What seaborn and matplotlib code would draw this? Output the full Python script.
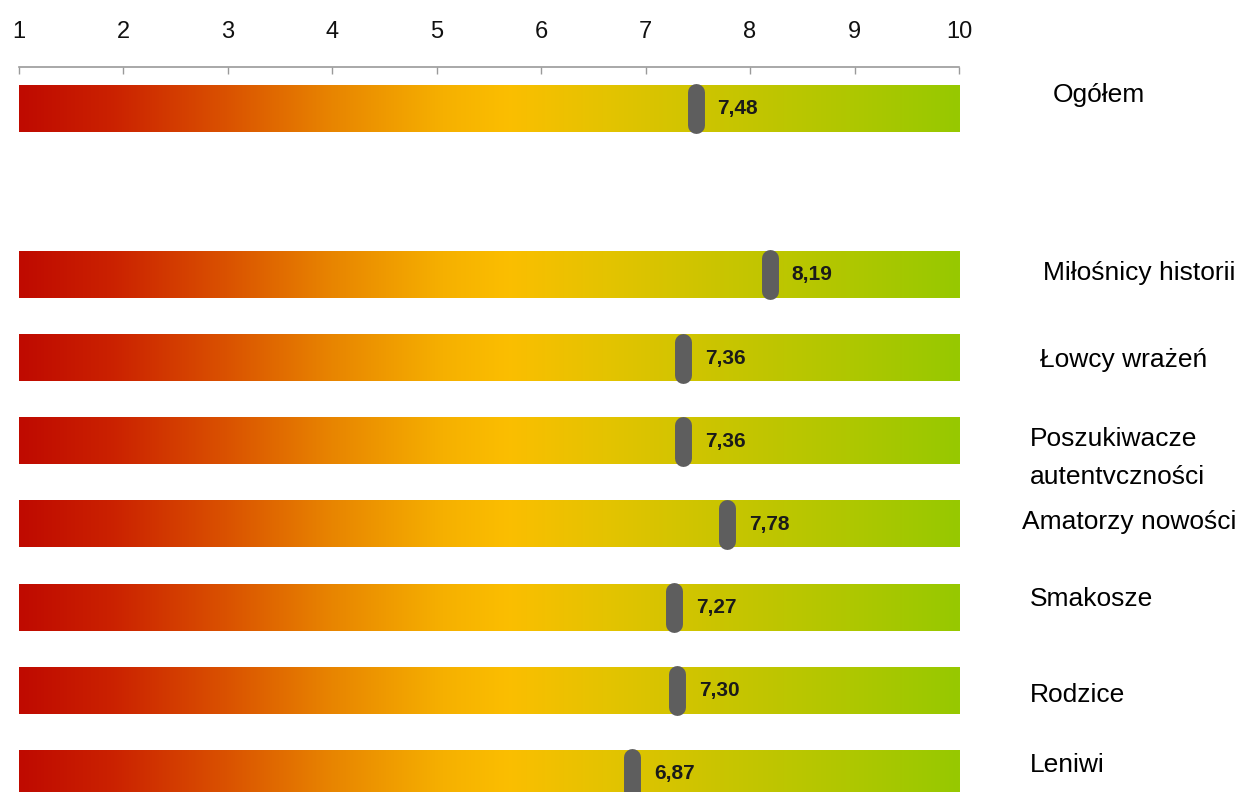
import numpy as np
import pandas as pd
import matplotlib
matplotlib.use("Agg")
import matplotlib.pyplot as plt
from matplotlib.colors import LinearSegmentedColormap
import seaborn as sns

# ---- data ----
categories = ["Ogółem", "Miłośnicy historii", "Łowcy wrażeń",
              "Poszukiwacze\nautentvczności", "Amatorzy nowości",
              "Smakosze", "Rodzice", "Leniwi"]
scores = [7.48, 8.19, 7.36, 7.36, 7.78, 7.27, 7.30, 6.87]
scale_min, scale_max = 1, 10
tick_values = list(range(1, 11))

# ---- layout (positions only) ----
order = [categories[0], ""] + categories[1:]
label_x_px = [1053, 1043, 1040, 1030, 1022, 1030, 1030, 1030]
label_y_px = [95, 273, 360, 458, 522, 599, 695, 765]

W, H, DPI = 1242, 792, 100
sns.set_style("white")
plt.rcParams["font.family"] = ["Liberation Sans", "DejaVu Sans"]

fig = plt.figure(figsize=(W / DPI, H / DPI), dpi=DPI)
ax_left, ax_right, ax_top = 18.5, 959.0, 67.0
ax = fig.add_axes([ax_left / W, 0, (ax_right - ax_left) / W, 1 - ax_top / H])

df = pd.DataFrame({"cat": categories, "full": [scale_max] * len(categories)})
sns.barplot(data=df, x="full", y="cat", order=order, orient="h",
            width=0.554, ax=ax, color="white", linewidth=0)

cmap = LinearSegmentedColormap.from_list("grad", [
    (0.00, "#bf0a00"), (0.10, "#cb2200"), (0.22, "#da5200"),
    (0.33, "#e88400"), (0.45, "#f6b000"), (0.52, "#fbbe00"),
    (0.62, "#e5c300"), (0.75, "#c9c500"), (0.88, "#b0c700"),
    (1.00, "#97c900")])
grad = np.linspace(0, 1, 512).reshape(1, -1)

row_of = {c: i for i, c in enumerate(order)}
for p in ax.patches:
    y0, h = p.get_y(), p.get_height()
    if h <= 0:
        continue
    p.set_alpha(0)
    ax.imshow(grad, cmap=cmap, aspect="auto", interpolation="bicubic",
              extent=[scale_min, scale_max, y0 + h, y0], zorder=1)

for c, v in zip(categories, scores):
    r = row_of[c]
    ax.plot([v, v], [r - 0.199, r + 0.199], color="#5e5e5e", lw=12.2,
            solid_capstyle="round", zorder=3)
    ax.annotate(f"{v:.2f}".replace(".", ","), xy=(v, r), xytext=(15.8, 0),
                textcoords="offset points", ha="left", va="center",
                fontsize=15, fontweight="bold", color="#1a1a1a", zorder=4)

ax.set_xlim(scale_min, scale_max)
ax.set_ylim(8.217, -0.5)
ax.set_xlabel("")
ax.set_ylabel("")
ax.set_yticks([])
ax.xaxis.tick_top()
ax.set_xticks(tick_values)
ax.set_xticklabels([str(t) for t in tick_values], fontsize=17, color="#111111")
ax.tick_params(axis="x", direction="in", length=5, width=1, color="#9a9a9a",
               pad=17, top=True, bottom=False)
for s in ["left", "right", "bottom"]:
    ax.spines[s].set_visible(False)
ax.spines["top"].set_color("#9a9a9a")
ax.spines["top"].set_linewidth(1.2)
ax.set_facecolor("white")

for c, lx, ly in zip(categories, label_x_px, label_y_px):
    fig.text(lx / W, 1 - ly / H, c, ha="left", va="center", fontsize=19,
             color="#000000", linespacing=1.75)

fig.savefig("out.png", dpi=DPI)
